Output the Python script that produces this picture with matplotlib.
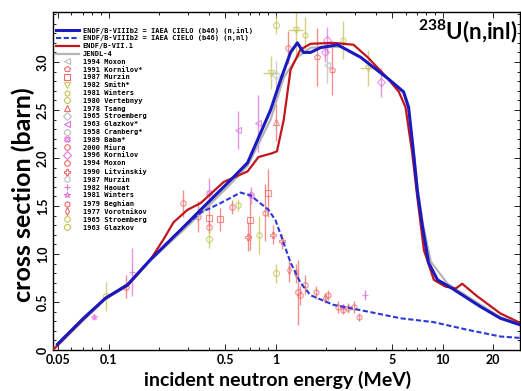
import matplotlib
matplotlib.use('Agg')
import matplotlib.pyplot as plt
from matplotlib.lines import Line2D
from matplotlib.ticker import FixedLocator, MultipleLocator, LogLocator, NullFormatter

# Evaluated curves (energy in MeV, cross section in barn)
cielo_e = [0.0495, 0.0708, 0.096, 0.13, 0.178, 0.281, 0.356, 0.538, 0.68, 0.934, 1.07,
           1.23, 1.35, 1.47, 1.62, 1.86, 2.35, 3.23, 4.69, 5.84, 6.26, 6.70, 7.08, 7.59,
           8.24, 9.33, 11.2, 16.9, 22.2, 29.3]
cielo_inl = [0.06, 0.33, 0.54, 0.68, 0.94, 1.28, 1.46, 1.77, 1.95, 2.50, 2.81,
             3.10, 3.20, 3.10, 3.10, 3.15, 3.18, 3.05, 2.83, 2.69, 2.53, 2.05, 1.64, 1.28,
             0.91, 0.73, 0.65, 0.45, 0.33, 0.26]

cielo_nl_e = [0.0495, 0.0708, 0.096, 0.13, 0.178, 0.281, 0.356, 0.469, 0.617, 0.709, 0.908,
              1.0, 1.10, 1.23, 1.41, 1.62, 2.22, 3.56, 5.60, 8.83, 14.1, 22.2, 29.3]
cielo_nl = [0.06, 0.33, 0.54, 0.68, 0.94, 1.28, 1.43, 1.53, 1.64, 1.61, 1.46,
            1.35, 1.15, 0.91, 0.70, 0.57, 0.47, 0.40, 0.33, 0.29, 0.21, 0.14, 0.125]

endf71_e = [0.0465, 0.0708, 0.096, 0.13, 0.178, 0.213, 0.245, 0.297, 0.356, 0.489, 0.68,
            0.79, 0.955, 1.02, 1.12, 1.23, 1.41, 1.62, 2.22, 2.93, 3.56, 4.69, 5.47, 6.0,
            6.58, 7.05, 7.73, 8.87, 10.4, 12.0, 13.1, 16.1, 22.2, 29.3]
endf71 = [0.0, 0.32, 0.54, 0.67, 0.94, 1.15, 1.33, 1.46, 1.53, 1.75, 1.86,
          2.01, 2.05, 2.07, 2.40, 2.92, 3.13, 3.19, 3.20, 3.18, 3.05, 2.83, 2.69, 2.53,
          2.05, 1.60, 1.04, 0.73, 0.66, 0.64, 0.69, 0.56, 0.38, 0.28]

jendl_e = [0.0465, 0.0708, 0.096, 0.13, 0.178, 0.281, 0.356, 0.538, 0.68, 0.777, 0.934,
           1.12, 1.35, 1.62, 2.45, 3.23, 4.69, 5.84, 6.26, 6.70, 7.08, 7.59, 8.5, 10.7,
           16.9, 22.2, 29.3]
jendl = [0.0, 0.31, 0.53, 0.67, 0.93, 1.25, 1.42, 1.73, 1.92, 2.12, 2.40,
         2.84, 3.05, 3.15, 3.16, 3.05, 2.83, 2.68, 2.50, 2.10, 1.70, 1.33, 0.92, 0.69,
         0.47, 0.34, 0.27]

# Experimental data: (energy, cross section, error)
moxon1994_a = ([2.02], [2.97], [0.19])
kornilov1991 = ([2.19, 1.78], [2.92, 3.05], [0.26, 0.30])
murzin1987_a = ([0.397, 0.468, 0.70, 0.90], [1.38, 1.36, 1.35, 1.64], [0.10, 0.12, 0.31, 0.25])
smith1982 = ([0.934, 1.32, 3.56], [2.89, 3.33, 2.94], [0.17, 0.27, 0.19])
smith1982_de = [0.09, 0.13, 0.35]
winters1981_a = ([1.51, 2.55], [3.28, 3.23], [0.19, 0.20])
vertebnyy1980 = ([1.01], [3.39], [0.10])
tsang1978 = ([1.0], [2.37], [0.19])
stroemberg1965_a = ([1.0], [2.87], [0.14])
glazkov1963_a = ([0.60, 0.79], [2.29, 2.36], [0.20, 0.30])
cranberg1958 = ([], [], [])
baba1989 = ([0.397, 0.71], [1.64, 1.61], [0.15, 0.09])
miura2000 = ([1.37, 1.41, 1.51], [0.60, 0.57, 0.68], [0.34, 0.10, 0.10])
kornilov1996 = ([2.04, 1.99, 4.25], [3.23, 3.10, 2.79], [0.14, 0.10, 0.15])
moxon1994_b = ([0.128, 0.278, 0.397, 0.55, 1.19], [0.66, 1.53, 1.28, 1.49, 3.15],
               [0.12, 0.14, 0.06, 0.07, 0.17])
litvinskiy1990 = ([0.68, 0.96, 1.10], [1.18, 1.20, 1.13], [0.15, 0.10, 0.08])
murzin1987_b = ([], [], [])
haouat1982 = ([0.139, 3.41], [0.81, 0.57], [0.25, 0.05])
winters1981_b = ([0.082, 2.52], [0.34, 0.45], [0.03, 0.03])
beghian1979 = ([0.341, 0.86, 1.74, 2.05, 2.35, 2.55, 2.73, 2.93, 3.14],
               [1.39, 1.43, 0.60, 0.57, 0.45, 0.42, 0.44, 0.45, 0.34],
               [0.16, 0.30, 0.07, 0.05, 0.06, 0.05, 0.05, 0.06, 0.04])
vorotnikov1977 = ([1.20, 1.32, 1.99], [0.83, 0.80, 0.54], [0.12, 0.10, 0.05])
stroemberg1965_b = ([0.60, 0.80], [1.51, 1.20], [0.06, 0.20])
glazkov1963_b = ([0.096, 0.397, 1.01], [0.56, 1.16, 0.80], [0.15, 0.10, 0.10])

exp_labels = ['1994 Moxon', '1991 Kornilov*', '1987 Murzin', '1982 Smith*', '1981 Winters',
              '1980 Vertebnyy', '1978 Tsang', '1965 Stroemberg', '1963 Glazkov*',
              '1958 Cranberg*', '1989 Baba*', '2000 Miura', '1996 Kornilov', '1994 Moxon',
              '1990 Litvinskiy', '1987 Murzin', '1982 Haouat', '1981 Winters',
              '1979 Beghian', '1977 Vorotnikov', '1965 Stroemberg', '1963 Glazkov']
exp_data = [moxon1994_a, kornilov1991, murzin1987_a, smith1982, winters1981_a,
            vertebnyy1980, tsang1978, stroemberg1965_a, glazkov1963_a,
            cranberg1958, baba1989, miura2000, kornilov1996, moxon1994_b,
            litvinskiy1990, murzin1987_b, haouat1982, winters1981_b,
            beghian1979, vorotnikov1977, stroemberg1965_b, glazkov1963_b]

RED = '#f06a6a'
MAG = '#e070e0'
YEL = '#c4c45a'
GRY = '#bdbdbd'
exp_colors = [GRY, RED, RED, YEL, YEL, YEL, RED, GRY, MAG, GRY, MAG, RED, MAG, RED,
              RED, GRY, MAG, MAG, RED, RED, YEL, YEL]
exp_markers = ['<', 'p', 's', 'v', 'h', '8', '^', 'D', '<', '8', 'X', 'o', 'D', 'o',
               'P', 'o', '+', '*', 'h', 'd', 'o', '8']

x_ticks = [0.05, 0.1, 0.5, 1, 5, 10, 20]
x_tick_labels = ['0.05', '0.1', '0.5', '1', '5', '10', '20']
y_ticks = [0, 0.5, 1.0, 1.5, 2.0, 2.5, 3.0]
y_tick_labels = ['0', '0.5', '1.0', '1.5', '2.0', '2.5', '3.0']


def main():
    plt.rcParams['font.family'] = 'Lato'
    plt.rcParams['mathtext.fontset'] = 'custom'
    plt.rcParams['mathtext.bf'] = 'Lato:bold'

    fig = plt.figure(figsize=(5.21, 3.91), dpi=100)
    ax = fig.add_axes([0.1017, 0.105, 0.896, 0.864])

    # Experimental points with error bars
    for i, (e, s, ds) in enumerate(exp_data):
        if not e:
            continue
        xerr = smith1982_de if exp_data[i] is smith1982 else None
        ax.errorbar(e, s, yerr=ds, xerr=xerr, fmt=exp_markers[i], color=exp_colors[i],
                    mfc='none', ms=4, mew=0.8, elinewidth=1.0, capsize=0,
                    alpha=0.75, zorder=2)

    # Evaluations
    ax.plot(jendl_e, jendl, color='#b4b4b4', lw=1.6, zorder=3)
    ax.plot(endf71_e, endf71, color='#c0161c', lw=1.6, zorder=4)
    ax.plot(cielo_nl_e, cielo_nl, color='#2a3ad8', lw=1.5, ls=(0, (2.5, 1.2)), zorder=5)
    ax.plot(cielo_e, cielo_inl, color='#1a1ac0', lw=2.2, zorder=6)

    ax.set_xscale('log')
    ax.set_xlim(0.0465, 29)
    ax.set_ylim(0, 3.52)

    ax.xaxis.set_major_locator(FixedLocator(x_ticks))
    ax.set_xticklabels(x_tick_labels, fontweight='bold', fontsize=9)
    ax.xaxis.set_minor_locator(LogLocator(base=10, subs=range(2, 10)))
    ax.xaxis.set_minor_formatter(NullFormatter())
    ax.yaxis.set_major_locator(FixedLocator(y_ticks))
    ax.set_yticklabels(y_tick_labels, fontweight='bold', fontsize=9, rotation=90, va='center')
    ax.yaxis.set_minor_locator(MultipleLocator(0.1))

    ax.tick_params(which='both', direction='in', top=True, right=True, width=0.6)
    ax.tick_params(which='major', length=4, pad=3)
    ax.tick_params(which='minor', length=2)
    for sp in ax.spines.values():
        sp.set_linewidth(1.0)

    ax.set_xlabel('incident neutron energy (MeV)', fontsize=14, fontweight='bold')
    ax.set_ylabel('cross section (barn)', fontsize=18, fontweight='bold')
    ax.xaxis.set_label_coords(0.481, -0.063)
    ax.yaxis.set_label_coords(-0.038, 0.46)

    ax.text(0.995, 0.985, r'$\mathbf{^{238}}$U(n,inl)', transform=ax.transAxes,
            ha='right', va='top', fontsize=16, fontweight='bold')

    # Legend
    handles = [
        Line2D([], [], color='#1a1ac0', lw=2.2),
        Line2D([], [], color='#2a3ad8', lw=1.5, ls=(0, (2.5, 1.2))),
        Line2D([], [], color='#c0161c', lw=1.6),
        Line2D([], [], color='#b4b4b4', lw=1.6),
    ]
    labels = ['ENDF/B-VIIIb2 = IAEA CIELO (b46) (n,inl)',
              'ENDF/B-VIIIb2 = IAEA CIELO (b46) (n,nl)',
              'ENDF/B-VII.1',
              'JENDL-4']
    for i, lab in enumerate(exp_labels):
        handles.append(Line2D([], [], ls='none', marker=exp_markers[i], color=exp_colors[i],
                              mfc='none', ms=4, mew=0.8))
        labels.append(lab)
    ax.legend(handles, labels, loc='upper left', bbox_to_anchor=(0.006, 0.957),
              frameon=False, prop={'family': 'DejaVu Sans Mono', 'size': 5, 'weight': 'bold'},
              labelspacing=0.26, handlelength=3.3, handletextpad=0.6, borderpad=0,
              borderaxespad=0)

    fig.savefig('out.png', dpi=100)


if __name__ == '__main__':
    main()
